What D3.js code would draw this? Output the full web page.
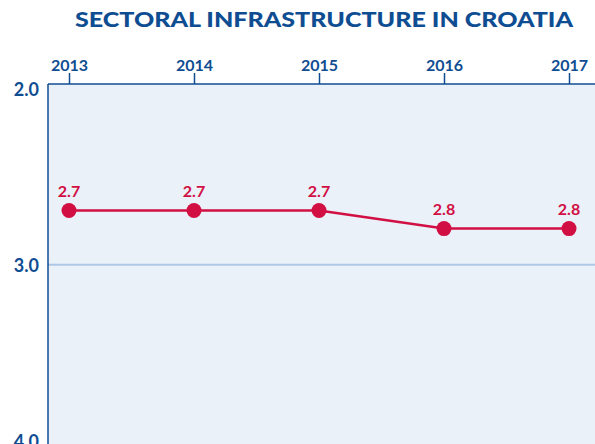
<!DOCTYPE html>
<html>
<head>
<meta charset="utf-8">
<script src="https://cdn.jsdelivr.net/npm/d3@7"></script>
<style>
  html, body { margin: 0; padding: 0; background: #ffffff; }
  svg { display: block; font-family: "Lato", "Open Sans", sans-serif; }
</style>
</head>
<body>
<svg id="chart" width="595" height="444"></svg>
<script>
// Sectoral infrastructure score for Croatia, by year
const years = ["2013", "2014", "2015", "2016", "2017"];
const scores = [2.7, 2.7, 2.7, 2.8, 2.8];
const yTicks = [2.0, 3.0, 4.0];

const W = 595, H = 444;
const margin = { top: 84, left: 48 };
const blue = "#0f4d92";
const red = "#d20f43";

const svg = d3.select("#chart");

const x = d3.scalePoint()
  .domain(years)
  .range([69, 569]);

// inverted scale: lower (better) score at the top
const y = d3.scaleLinear()
  .domain([2, 4])
  .range([margin.top, 445.5]);

// title
svg.append("text")
  .attr("x", 324)
  .attr("y", 27)
  .attr("text-anchor", "middle")
  .attr("textLength", 498)
  .attr("lengthAdjust", "spacingAndGlyphs")
  .attr("font-size", 20)
  .attr("font-weight", 900)
  .attr("fill", blue)
  .text("SECTORAL INFRASTRUCTURE IN CROATIA");

// plot background
svg.append("rect")
  .attr("x", margin.left)
  .attr("y", margin.top)
  .attr("width", W - margin.left)
  .attr("height", H - margin.top)
  .attr("fill", "#eaf1f9");

// horizontal gridlines (skip the top one, which is the axis)
svg.append("g")
  .selectAll("line")
  .data(yTicks.filter(d => d > 2))
  .join("line")
  .attr("x1", margin.left)
  .attr("x2", W)
  .attr("y1", d => y(d))
  .attr("y2", d => y(d))
  .attr("stroke", "#aec8e6")
  .attr("stroke-width", 2);

// top axis with years
const xAxis = d3.axisTop(x).tickSize(11).tickPadding(2);
const gx = svg.append("g")
  .attr("transform", `translate(0,${margin.top})`)
  .call(xAxis);
gx.select(".domain").remove();
gx.selectAll(".tick line").attr("stroke", blue).attr("stroke-width", 1.5);
gx.selectAll(".tick text")
  .attr("fill", blue)
  .attr("font-size", 16)
  .attr("font-weight", 700)
  .attr("font-family", "Lato, sans-serif");
svg.append("line")
  .attr("x1", margin.left).attr("x2", W)
  .attr("y1", margin.top).attr("y2", margin.top)
  .attr("stroke", blue).attr("stroke-width", 1.5);

// left axis: end labels are nudged inward so they stay inside the frame
const yAxis = d3.axisLeft(y).tickValues(yTicks).tickFormat(d3.format(".1f")).tickSize(0).tickPadding(9);
const gy = svg.append("g")
  .attr("transform", `translate(${margin.left},0)`)
  .call(yAxis);
gy.select(".domain").remove();
gy.selectAll(".tick text")
  .attr("fill", blue)
  .attr("font-size", 18)
  .attr("font-weight", 700)
  .attr("font-family", "Lato, sans-serif")
  .attr("dy", "0.36em")
  .attr("y", d => Math.max(89, Math.min(441, y(d))) - y(d));
svg.append("line")
  .attr("x1", margin.left).attr("x2", margin.left)
  .attr("y1", margin.top).attr("y2", H)
  .attr("stroke", blue).attr("stroke-width", 1.5);

// series
const data = years.map((yr, i) => ({ year: yr, value: scores[i] }));

svg.append("path")
  .datum(data)
  .attr("fill", "none")
  .attr("stroke", red)
  .attr("stroke-width", 2.5)
  .attr("d", d3.line().x(d => x(d.year)).y(d => y(d.value)));

svg.append("g")
  .selectAll("circle")
  .data(data)
  .join("circle")
  .attr("cx", d => x(d.year))
  .attr("cy", d => y(d.value))
  .attr("r", 7.5)
  .attr("fill", red);

svg.append("g")
  .selectAll("text")
  .data(data)
  .join("text")
  .attr("x", d => x(d.year))
  .attr("y", d => y(d.value) - 14)
  .attr("text-anchor", "middle")
  .attr("fill", red)
  .attr("font-size", 16)
  .attr("font-weight", 700)
  .text(d => d3.format(".1f")(d.value));
</script>
</body>
</html>
